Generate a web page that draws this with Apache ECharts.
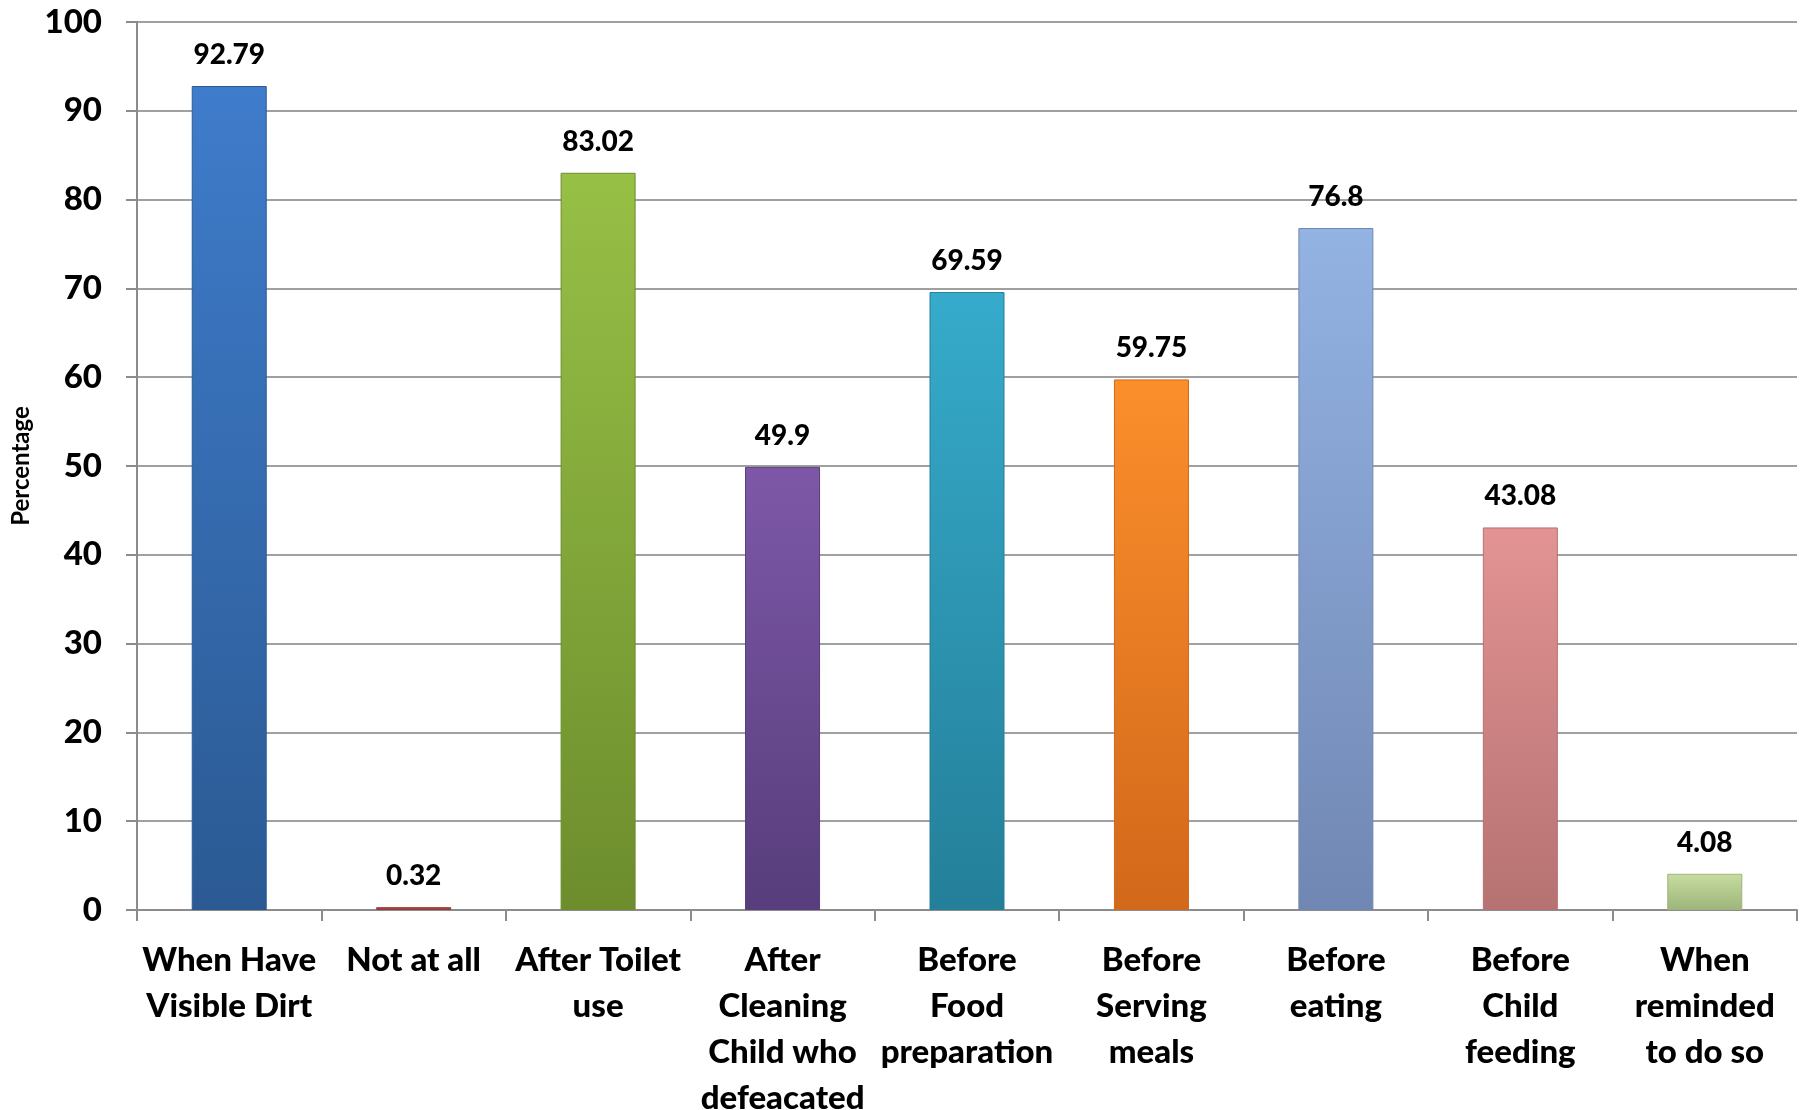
<!DOCTYPE html>
<html>
<head>
<meta charset="utf-8">
<script src="https://cdn.jsdelivr.net/npm/echarts@6/dist/echarts.min.js"></script>
<style>
html,body{margin:0;padding:0;background:#fff;}
#c{width:1804px;height:1110px;}
</style>
</head>
<body>
<div id="c"></div>
<script>
const categories = [
  "When Have\nVisible Dirt",
  "Not at all",
  "After Toilet\nuse",
  "After\nCleaning\nChild who\ndefeacated",
  "Before\nFood\npreparation",
  "Before\nServing\nmeals",
  "Before\neating",
  "Before\nChild\nfeeding",
  "When\nreminded\nto do so"
];
const values = [92.79, 0.32, 83.02, 49.9, 69.59, 59.75, 76.8, 43.08, 4.08];
const yTicks = [0, 10, 20, 30, 40, 50, 60, 70, 80, 90, 100];
const barColors = [
  ["#3f7ccb", "#2b5a93"],
  ["#c0504d", "#8f3b39"],
  ["#97c046", "#6d8d2d"],
  ["#7d58a8", "#573d7b"],
  ["#36abcb", "#247f99"],
  ["#fb8f2c", "#d2681a"],
  ["#93b3e3", "#7187b3"],
  ["#e39393", "#b67272"],
  ["#c7dca0", "#9db57a"]
];

const chart = echarts.init(document.getElementById('c'), null, {renderer: 'canvas'});
const fontFam = 'Lato, "Open Sans", sans-serif';
chart.setOption({
  animation: false,
  backgroundColor: '#ffffff',
  grid: {left: 137, right: 7, top: 22, bottom: 200, containLabel: false, outerBoundsMode: 'none'},
  xAxis: {
    type: 'category',
    data: categories,
    axisLine: {lineStyle: {color: '#8c8c8c', width: 2}},
    axisTick: {show: true, length: 11, lineStyle: {color: '#8c8c8c', width: 2}},
    axisLabel: {
      interval: 0,
      color: '#000',
      fontFamily: fontFam,
      fontWeight: 900,
      fontSize: 33,
      lineHeight: 46,
      margin: 27
    }
  },
  yAxis: {
    type: 'value',
    min: 0, max: 100, interval: 10,
    name: 'Percentage',
    nameLocation: 'middle',
    nameGap: 103,
    nameTextStyle: {color: '#000', fontFamily: fontFam, fontWeight: 'bold', fontSize: 24},
    axisLine: {show: true, lineStyle: {color: '#8c8c8c', width: 2}},
    axisTick: {show: true, length: 11, lineStyle: {color: '#8c8c8c', width: 2}},
    axisLabel: {
      color: '#000', fontFamily: fontFam, fontWeight: 900, fontSize: 33, margin: 35,
      formatter: function (v) { return yTicks.indexOf(v) >= 0 ? String(v) : ''; }
    },
    splitLine: {show: true, lineStyle: {color: '#a0a0a0', width: 2}}
  },
  series: [{
    type: 'bar',
    barWidth: 75,
    data: values.map(function (v, i) {
      return {
        value: v,
        itemStyle: {
          color: new echarts.graphic.LinearGradient(0, 0, 0, 1, [
            {offset: 0, color: barColors[i][0]},
            {offset: 1, color: barColors[i][1]}
          ]),
          borderColor: barColors[i][1],
          borderWidth: 1
        }
      };
    }),
    label: {
      show: true,
      position: 'top',
      distance: 17,
      color: '#000',
      fontFamily: fontFam,
      fontWeight: 900,
      fontSize: 28,
      formatter: function (p) { return String(p.value); }
    }
  }]
});
</script>
</body>
</html>
